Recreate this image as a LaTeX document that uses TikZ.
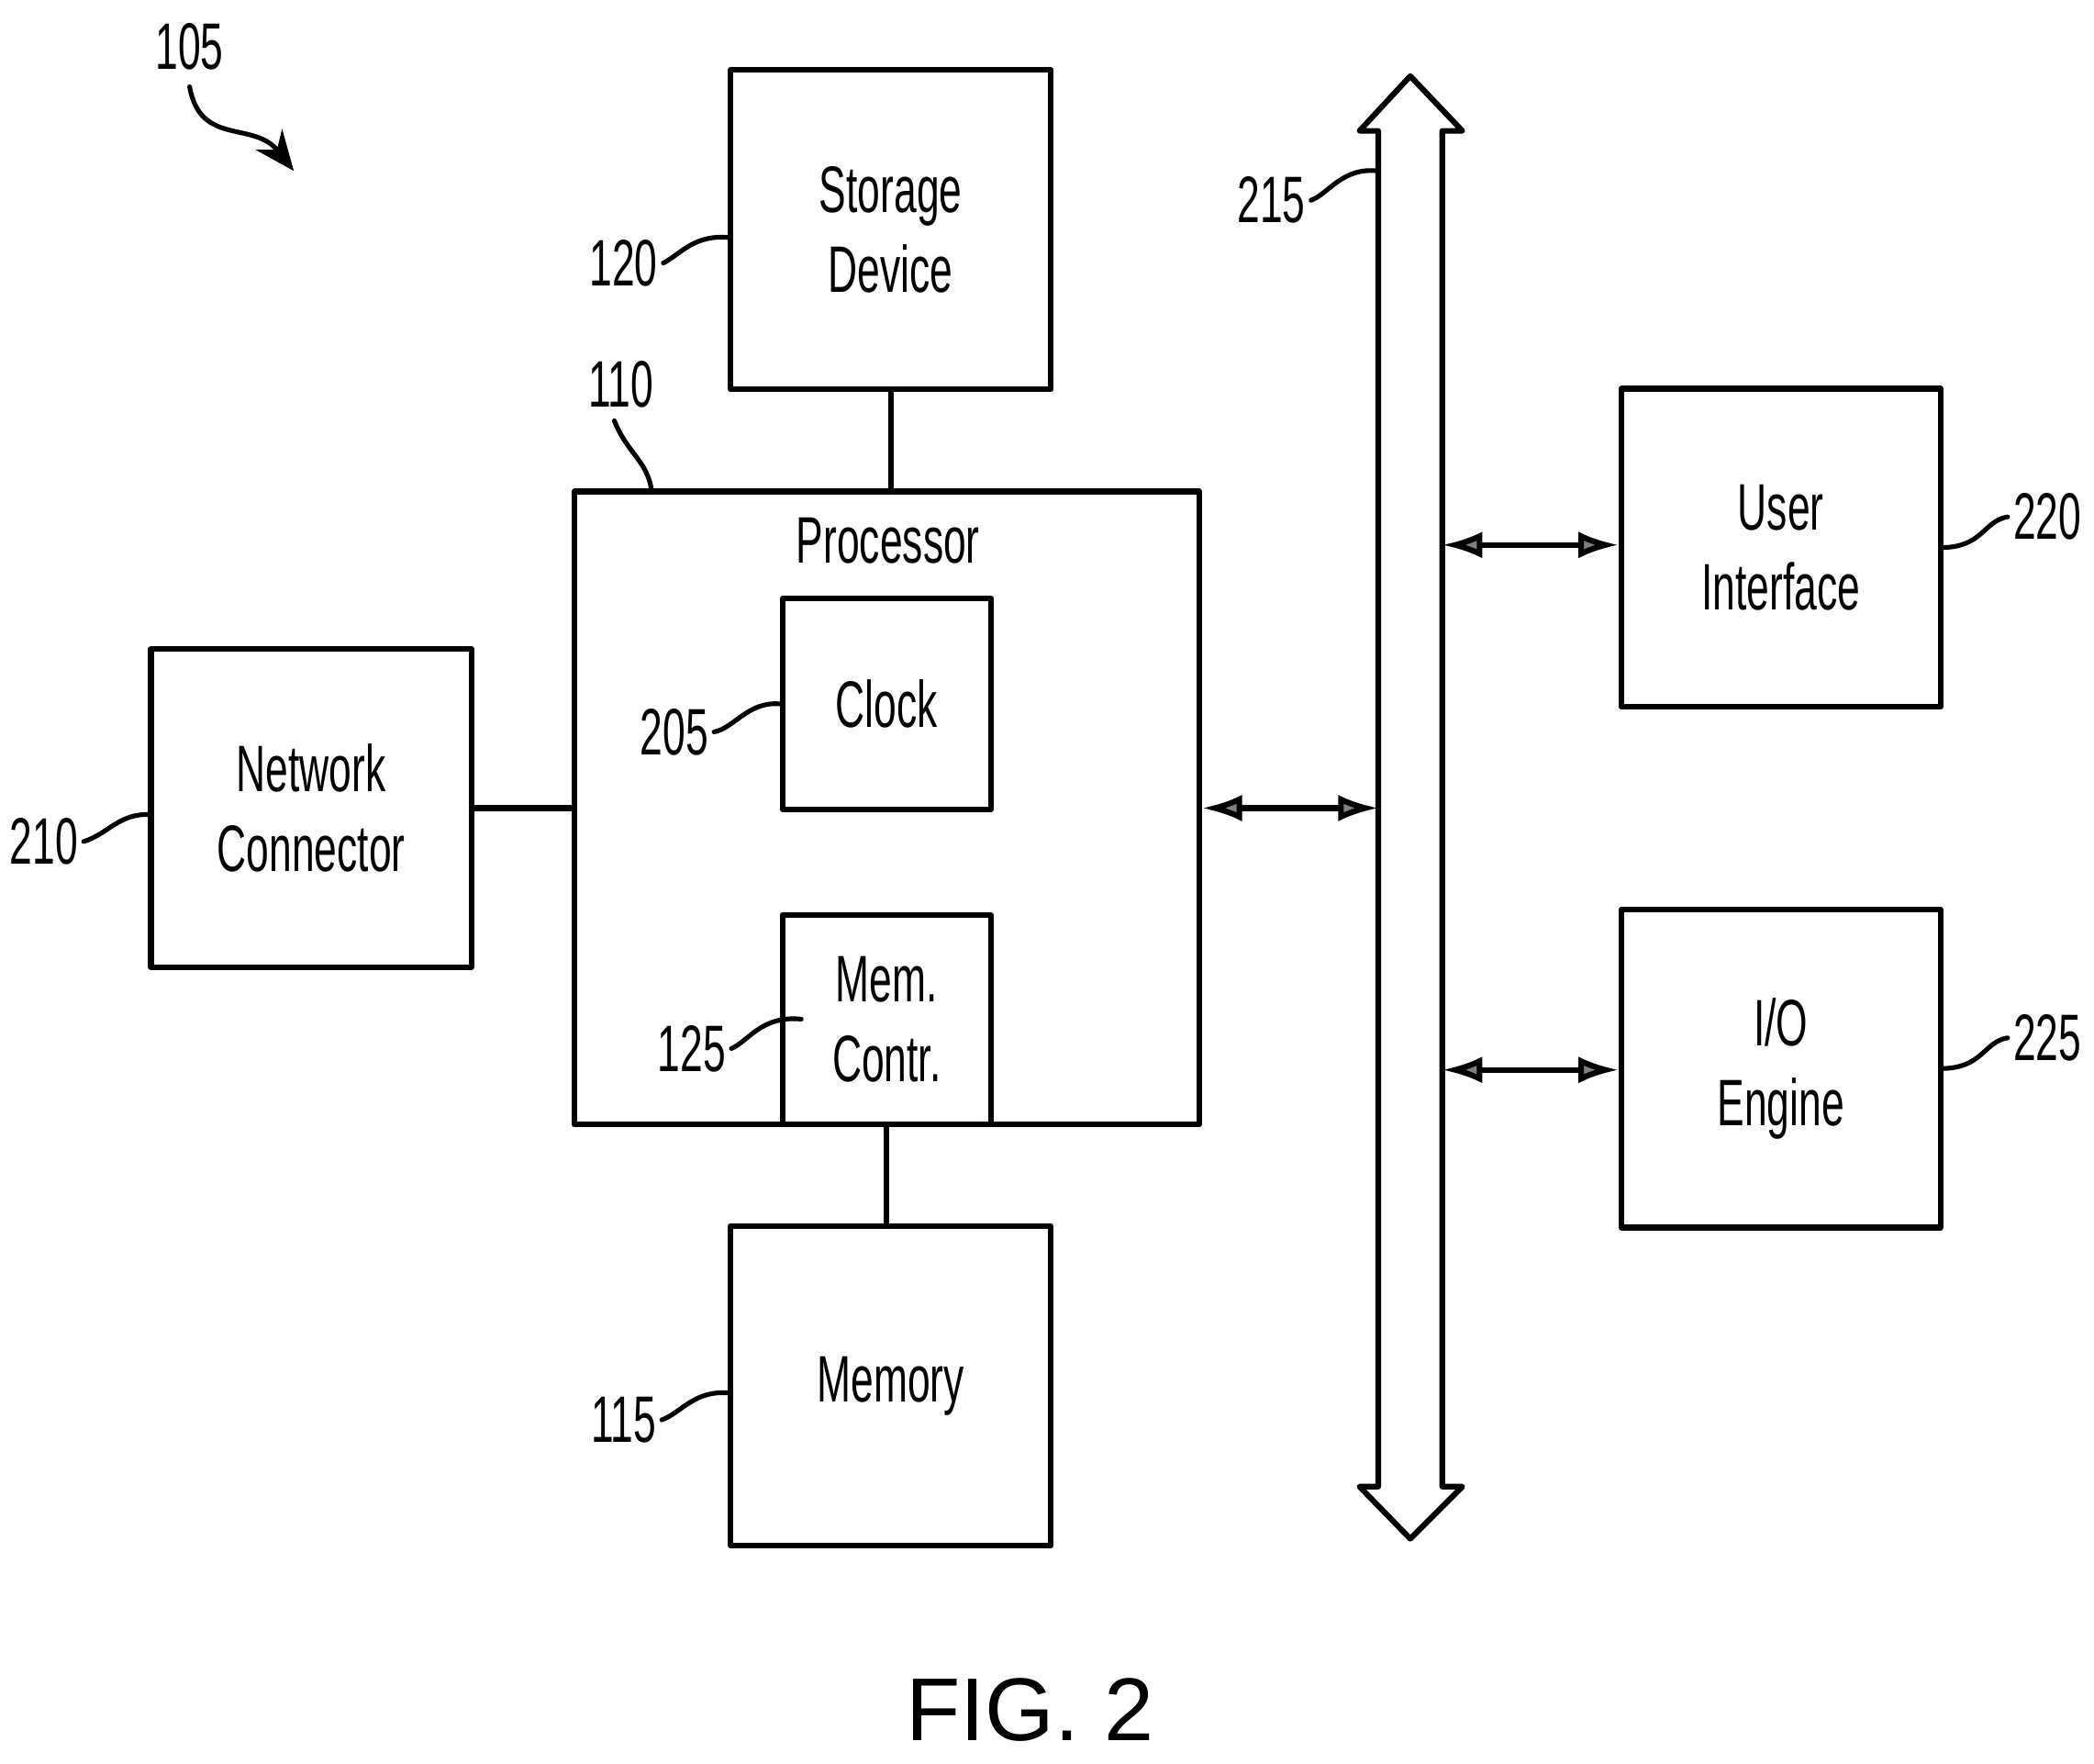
\documentclass[tikz,border=0pt]{standalone}
\usepackage{fontspec}
\setmainfont{Liberation Sans}[FakeStretch=0.62]
\newfontfamily\figfont{Liberation Sans}
\usetikzlibrary{arrows.meta,positioning,calc}
\tikzset{%
        block/.style = { draw, line width=1.2pt, inner sep=0pt, align=center, font=\fontsize{14}{17}\selectfont },
          ref/.style = { font=\fontsize{14}{17}\selectfont, inner sep=1pt },
       leader/.style = { line width=1pt },
         link/.style = { line width=1.2pt },
        dlink/.style = { line width=1.2pt, {Latex[length=3mm,width=2mm,fill=gray]}-{Latex[length=3mm,width=2mm,fill=gray]} }
}
\begin{document}
\begin{tikzpicture}[x=1cm,y=1cm,line cap=round,line join=round]
\useasboundingbox (0,0) rectangle (15.68,13.2);
% blocks
\node[block,minimum width=2.4cm,minimum height=2.39cm] (storage) at (6.67,11.48) {Storage\\Device};
\node[block,minimum width=4.68cm,minimum height=4.74cm] (proc) at (6.64,7.15) {};
\node[font=\fontsize{14}{17}\selectfont] (proclab) at (6.65,9.15) {Processor};
\node[block,minimum width=1.56cm,minimum height=1.58cm] (clock) at (6.64,7.93) {Clock};
\node[block,minimum width=1.56cm,minimum height=1.57cm] (memc) at (6.64,5.565) {Mem.\\Contr.};
\node[block,minimum width=2.4cm,minimum height=2.39cm] (memory) at (6.67,2.825) {Memory};
\node[block,minimum width=2.4cm,minimum height=2.38cm] (net) at (2.33,7.15) {Network\\Connector};
\node[block,minimum width=2.39cm,minimum height=2.38cm] (ui) at (13.335,9.1) {User\\Interface};
\node[block,minimum width=2.39cm,minimum height=2.38cm] (io) at (13.335,5.2) {I/O\\Engine};
% bus
\draw[line width=1.2pt] (10.32,12.22) coordinate (bustop) -- (10.18,12.22) -- (10.56,12.63) -- (10.95,12.22) -- (10.80,12.22)
  -- (10.80,2.07) -- (10.95,2.07) -- (10.56,1.68) -- (10.18,2.07) -- (10.32,2.07) -- cycle;
\coordinate (busL) at (10.32,7.15);
\coordinate (busRu) at (10.80,9.12);
\coordinate (busRi) at (10.80,5.19);
% connectors
\draw[link] (storage.south) -- (storage.south |- proc.north);
\draw[link] (memc.south) -- (memc.south |- memory.north);
\draw[link] (net.east) -- (net.east -| proc.west);
\draw[dlink] (proc.east |- busL) -- (busL);
\draw[dlink] (busRu) -- (ui.west |- busRu);
\draw[dlink] (busRi) -- (io.west |- busRi);
% reference numerals
\node[ref] (r105) at (1.42,12.85) {105};
\draw[leader,-{Stealth[length=3mm,width=2.5mm]}] (1.42,12.55) .. controls (1.5,12.1) and (1.9,12.3) .. (2.2,11.92);
\node[ref] (r120) at (4.67,11.23) {120};
\draw[leader] (r120.east) .. controls (5.1,11.3) and (5.2,11.45) .. (5.47,11.42);
\node[ref] (r110) at (4.65,10.32) {110};
\draw[leader] (4.6,10.05) .. controls (4.7,9.8) and (4.85,9.75) .. (4.88,9.52);
\node[ref] (r205) at (5.05,7.72) {205};
\draw[leader] (r205.east) .. controls (5.5,7.75) and (5.6,7.95) .. (clock.west);
\node[ref] (r125) at (5.18,5.35) {125};
\draw[leader] (r125.east) .. controls (5.6,5.4) and (5.7,5.6) .. (6.0,5.57);
\node[ref] (r210) at (0.33,6.9) {210};
\draw[leader] (r210.east) .. controls (0.8,6.95) and (0.9,7.12) .. (1.13,7.1);
\node[ref] (r215) at (9.52,11.7) {215};
\draw[leader] (r215.east) .. controls (9.95,11.75) and (10.05,11.95) .. (10.32,11.92);
\node[ref] (r220) at (15.33,9.33) {220};
\draw[leader] (r220.west) .. controls (14.85,9.3) and (14.85,9.1) .. (14.53,9.1);
\node[ref] (r225) at (15.33,5.43) {225};
\draw[leader] (r225.west) .. controls (14.85,5.4) and (14.85,5.2) .. (14.53,5.2);
\node[ref] (r115) at (4.67,2.57) {115};
\draw[leader] (r115.east) .. controls (5.1,2.62) and (5.2,2.8) .. (5.47,2.77);
% figure caption
\node[font=\figfont\fontsize{19}{22}\selectfont] (fig) at (7.71,0.4) {FIG. 2};
\end{tikzpicture}
\end{document}
